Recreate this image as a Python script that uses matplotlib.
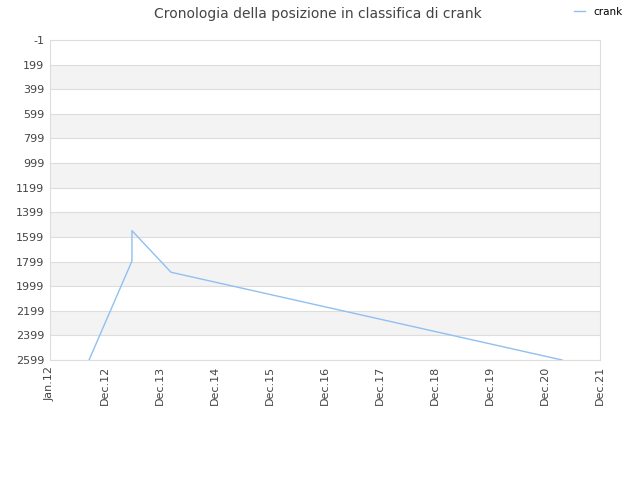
import matplotlib
matplotlib.use("Agg")
import matplotlib.pyplot as plt
import numpy as np

# tick labels along x (evenly spaced in the chart)
x_labels = ['Jan.12', 'Dec.12', 'Dec.13', 'Dec.14', 'Dec.15', 'Dec.16',
            'Dec.17', 'Dec.18', 'Dec.19', 'Dec.20', 'Dec.21']
# positions measured in tick units
pos_x = [0.71, 1.49, 1.49, 2.2, 9.31]
pos_y = [2599, 1795, 1548, 1886, 2599]
y_ticks = list(range(-1, 2600, 200))

line_color = '#90c0f0'
text_color = '#444444'

fig = plt.figure(figsize=(6.4, 4.8), dpi=100)
ax = fig.add_axes([50 / 640, 120 / 480, 550 / 640, 320 / 480])

# alternating bands
for i, lo in enumerate(y_ticks[:-1]):
    if i % 2 == 1:
        ax.axhspan(lo, lo + 200, color='#f3f3f3', zorder=0, lw=0)
for t in y_ticks:
    ax.axhline(t, color='#dddddd', lw=0.8, zorder=1)

ax.plot(pos_x, pos_y, color=line_color, lw=1, zorder=3, label='crank')

ax.set_xlim(0, len(x_labels) - 1)
ax.set_ylim(2599, -1)
ax.set_yticks(y_ticks)
ax.set_yticklabels([str(t) for t in y_ticks], fontsize=8, color=text_color)
ax.set_xticks(np.arange(len(x_labels)))
ax.set_xticklabels(x_labels, rotation=90, fontsize=8, color=text_color)
ax.tick_params(length=0, pad=4)
for s in ax.spines.values():
    s.set_color('#dddddd')

fig.suptitle('Cronologia della posizione in classifica di crank', x=318 / 640, y=0.985,
             fontsize=10, color=text_color, va='top')
leg = fig.legend(loc='upper right', bbox_to_anchor=(0.987, 1.005), frameon=False,
                 fontsize=7.5, handlelength=1.0, handletextpad=0.8)

fig.savefig('out.png', dpi=100)
